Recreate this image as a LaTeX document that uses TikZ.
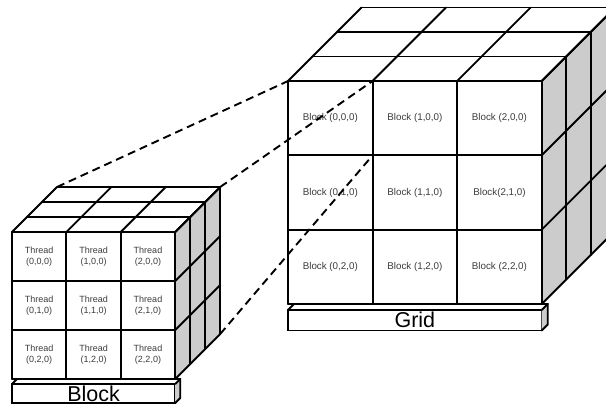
\documentclass[tikz,border=0pt]{standalone}
\usepackage{fontspec}
\setmainfont{Liberation Sans}
\usepackage{tikz}
\usetikzlibrary{positioning}

\definecolor{sidegray}{RGB}{204,204,204}
\definecolor{labelgray}{RGB}{60,60,60}

% faces of a 3x3x3 cube
% #1,#2 front top left corner, #3 cell width, #4 cell height, #5 depth step
\newcommand\cubesides[5]{%
  \fill[sidegray] (#1+3*#3,#2) -- ++(3*#5,-3*#5) -- ++(0,3*#4) -- ++(-3*#5,3*#5) -- cycle;
  \foreach \k in {0,...,3} {
    \draw[edge] (#1+\k*#5,#2-\k*#5) -- ++(3*#3,0);
    \draw[edge] (#1+3*#3+\k*#5,#2-\k*#5) -- ++(0,3*#4);
    \draw[edge] (#1+\k*#3,#2) -- ++(3*#5,-3*#5);
    \draw[edge] (#1+3*#3,#2+\k*#4) -- ++(3*#5,-3*#5);
    \draw[edge] (#1+\k*#3,#2) -- ++(0,3*#4);
    \draw[edge] (#1,#2+\k*#4) -- ++(3*#3,0);
  }%
}

\begin{document}
\begin{tikzpicture}[
  x=1pt, y=-1pt,
  node distance=0pt and 0pt,
  edge/.style={line width=1.9pt, line cap=round},
  tcell/.style={outer sep=0pt, inner sep=0pt, align=center,
    minimum width=54.4pt, minimum height=49pt, font=\fontsize{9}{11.5}\selectfont, text=labelgray},
  bcell/.style={outer sep=0pt, inner sep=0pt, align=center,
    minimum width=84.57pt, minimum height=74.33pt, font=\fontsize{9.8}{11}\selectfont, text=labelgray},
  basebox/.style={draw, line width=1.9pt, outer sep=0pt, inner sep=0pt, fill=white,
    font=\fontsize{21.5}{22}\selectfont},
  dashline/.style={line width=1.9pt, dash pattern=on 8pt off 5pt}
]
\useasboundingbox (0,0) rectangle (606,405);
\fill[white] (0,0) rectangle (606,405);
\clip (0,0) rectangle (606,405);

% thread block base
\node[basebox, minimum width=163.2pt, minimum height=19pt] (blockbase) at (93.6,393.5) {Block};
\fill[sidegray] (blockbase.north east) -- ++(5,-5) -- ++(0,19) -- (blockbase.south east) -- cycle;
\draw[edge] (blockbase.north west) -- ++(5,-5) -- ++(163.2,0) -- ++(0,19) -- (blockbase.south east);
\draw[edge] (blockbase.north east) -- ++(5,-5);

% grid base
\node[basebox, minimum width=253.7pt, minimum height=20.5pt] (gridbase) at (414.85,320.25) {Grid};
\fill[sidegray] (gridbase.north east) -- ++(6,-6) -- ++(0,20.5) -- (gridbase.south east) -- cycle;
\draw[edge] (gridbase.north west) -- ++(6,-6) -- ++(253.7,0) -- ++(0,20.5) -- (gridbase.south east);
\draw[edge] (gridbase.north east) -- ++(6,-6);

% thread block cube
\cubesides{12}{232}{54.4}{49}{15}
\node[tcell] (t00) at (39.2,256.5) {Thread\\(0,0,0)};
\node[tcell, right=of t00] (t10) {Thread\\(1,0,0)};
\node[tcell, right=of t10] (t20) {Thread\\(2,0,0)};
\node[tcell, below=of t00] (t01) {Thread\\(0,1,0)};
\node[tcell, right=of t01] (t11) {Thread\\(1,1,0)};
\node[tcell, right=of t11] (t21) {Thread\\(2,1,0)};
\node[tcell, below=of t01] (t02) {Thread\\(0,2,0)};
\node[tcell, right=of t02] (t12) {Thread\\(1,2,0)};
\node[tcell, right=of t12] (t22) {Thread\\(2,2,0)};

% back corners of the thread block
\coordinate (sbtl) at (57,187);
\coordinate (sbtr) at (220.2,187);
\coordinate (sbbr) at (220.2,334);

% grid cube
\cubesides{288}{81}{84.57}{74.33}{24.5}
\node[bcell] (b00) at (330.3,118.2) {Block (0,0,0)};
\node[bcell, right=of b00] (b10) {Block (1,0,0)};
\node[bcell, right=of b10] (b20) {Block (2,0,0)};
\node[bcell, below=of b00] (b01) {Block (0,1,0)};
\node[bcell, right=of b01] (b11) {Block (1,1,0)};
\node[bcell, right=of b11] (b21) {Block(2,1,0)};
\node[bcell, below=of b01] (b02) {Block (0,2,0)};
\node[bcell, right=of b02] (b12) {Block (1,2,0)};
\node[bcell, right=of b12] (b22) {Block (2,2,0)};

% projection of one block onto the grid
\draw[dashline] (sbtl) -- (b00.north west);
\draw[dashline] (sbtr) -- (b00.north east);
\draw[dashline] (sbbr) -- (b00.south east);
\end{tikzpicture}
\end{document}
